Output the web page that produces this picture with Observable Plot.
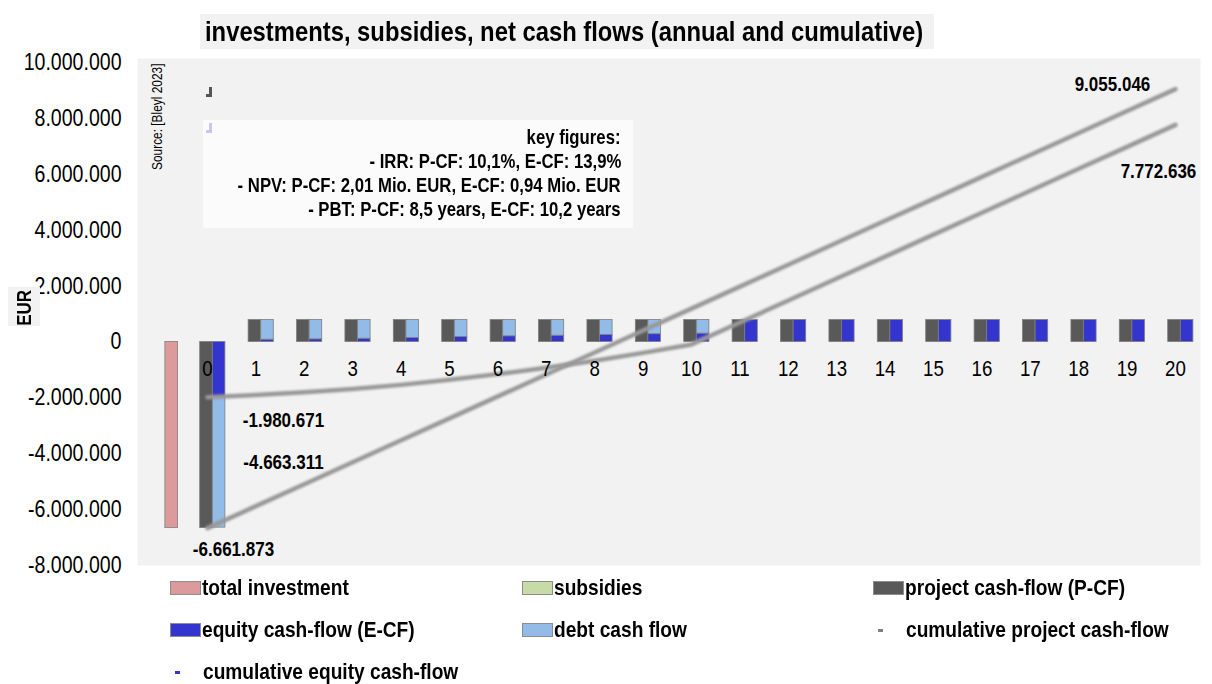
<!DOCTYPE html>
<html><head><meta charset="utf-8">
<script src="https://cdn.jsdelivr.net/npm/d3@7"></script>
<script src="https://cdn.jsdelivr.net/npm/@observablehq/plot@0.6"></script>
<style>
body{margin:0;background:#fff;}
#wrap{position:relative;width:1212px;height:684px;overflow:hidden;font-family:"Liberation Sans",Arial,sans-serif;color:#000;}
#title{position:relative;height:50px;}
#tbox{position:absolute;left:200px;top:14px;height:35px;background:#f2f2f2;white-space:nowrap;}
#tbox span{position:absolute;left:5px;top:0;font-weight:bold;font-size:28px;line-height:35px;}
.sc{display:inline-block;transform:scaleX(0.85);transform-origin:0 50%;white-space:nowrap;}
.lsc{display:inline-block;transform:scaleX(0.87);transform-origin:0 50%;white-space:nowrap;}
#legend{position:absolute;left:170px;top:567px;display:grid;grid-template-columns:352px 351px 330px;grid-auto-rows:42px;align-items:center;font-weight:bold;font-size:22px;}
.item{display:flex;align-items:center;white-space:nowrap;}
.sw{flex:0 0 31px;width:31px;height:14px;margin-right:1px;box-sizing:border-box;border:1px solid #8c8c8c;}
.mk{flex:0 0 5px;width:5px;height:3px;margin-left:5px;margin-right:23px;}
#keybox{position:absolute;left:203px;top:120px;width:430px;height:108px;background:#fbfbfb;font-weight:bold;font-size:19.7px;line-height:24px;white-space:nowrap;}
#keybox div{position:absolute;right:12px;height:24px;}
#keybox span{display:inline-block;transform:scaleX(0.85);transform-origin:100% 50%;}
#source{position:absolute;left:150px;top:170px;transform-origin:0 0;transform:rotate(-90deg) scaleX(0.85);font-size:14px;line-height:14px;white-space:nowrap;}
#eurbox{position:absolute;left:8px;top:287px;width:32px;height:39px;background:#f2f2f2;}
#eur{position:absolute;left:8px;top:330px;width:45px;height:32px;transform-origin:0 0;transform:rotate(-90deg);font-weight:bold;font-size:20px;line-height:32px;text-align:center;}
#eur span{display:inline-block;transform:scaleX(0.85);}
.glyph{position:absolute;width:6px;height:10px;box-sizing:border-box;border-right:3px solid;border-bottom:3px solid;}
</style></head>
<body><div id="wrap">
<div id="title"><div id="tbox"><span class="sc">investments, subsidies, net cash flows (annual and cumulative)</span></div></div>
<div id="chart"></div>
<div id="legend"></div>
<div class="glyph" style="left:206px;top:87px;border-color:#555;"></div>
<div id="keybox"></div>
<div class="glyph" style="left:206px;top:123px;border-color:#c8c8ee;"></div>
<div id="source">Source: [Bleyl 2023]</div>
<div id="eurbox"></div>
<div id="eur"><span>EUR</span></div>
</div>
<script>
// ---- data ----
const years = [0,1,2,3,4,5,6,7,8,9,10,11,12,13,14,15,16,17,18,19,20];
const totalInvestment = [-6661873,0,0,0,0,0,0,0,0,0,0,0,0,0,0,0,0,0,0,0,0];
const subsidies = [0,0,0,0,0,0,0,0,0,0,0,0,0,0,0,0,0,0,0,0,0];
const projectCF = [-6661873,785846,785846,785846,785846,785846,785846,785846,785846,785846,785846,785846,785846,785846,785846,785846,785846,785846,785846,785846,785845];
const equityCF = [-1980671,85000,97000,120000,145000,180000,205000,228000,253000,280000,302000,785831,785831,785831,785831,785831,785831,785831,785830,785830,785830];
const debtCF = [-4663311,700846,688846,665846,640846,605846,580846,557846,532846,505846,483846,0,0,0,0,0,0,0,0,0,0];
const yTicks = [-8000000,-6000000,-4000000,-2000000,0,2000000,4000000,6000000,8000000,10000000];
const keyFigures = ["key figures:","- IRR: P-CF: 10,1%, E-CF: 13,9%","- NPV: P-CF: 2,01 Mio. EUR, E-CF: 0,94 Mio. EUR","- PBT: P-CF: 8,5 years, E-CF: 10,2 years"];
const legendItems = [
  {label:"total investment", color:"#dc9a9c", kind:"bar"},
  {label:"subsidies", color:"#c7dba6", kind:"bar"},
  {label:"project cash-flow (P-CF)", color:"#595959", kind:"bar"},
  {label:"equity cash-flow (E-CF)", color:"#3434cf", kind:"bar"},
  {label:"debt cash flow", color:"#92bbe8", kind:"bar"},
  {label:"cumulative project cash-flow", color:"#808080", kind:"line"},
  {label:"cumulative equity cash-flow", color:"#3434cf", kind:"line"}
];
const colors = {total:"#dc9a9c", subsidies:"#c7dba6", project:"#595959", equity:"#3434cf", debt:"#92bbe8", line:"#999999"};
const SX = 0.85; // horizontal condensing of the narrow typeface

// ---- derived tables ----
const slot = {total:[-0.87,-0.61], subsidies:[-0.61,-0.35], project:[-0.15,0.11], stack:[0.11,0.37]};
const bars = [];
years.forEach((yr,i)=>{
  if (totalInvestment[i]!==0) bars.push({x1:yr+slot.total[0],x2:yr+slot.total[1],y1:0,y2:totalInvestment[i],fill:colors.total});
  if (subsidies[i]!==0) bars.push({x1:yr+slot.subsidies[0],x2:yr+slot.subsidies[1],y1:0,y2:subsidies[i],fill:colors.subsidies});
  bars.push({x1:yr+slot.project[0],x2:yr+slot.project[1],y1:0,y2:projectCF[i],fill:colors.project});
  bars.push({x1:yr+slot.stack[0],x2:yr+slot.stack[1],y1:0,y2:equityCF[i],fill:colors.equity});
  if (debtCF[i]!==0) bars.push({x1:yr+slot.stack[0],x2:yr+slot.stack[1],y1:equityCF[i],y2:equityCF[i]+debtCF[i],fill:colors.debt});
});
const cumP = d3.cumsum(projectCF), cumE = d3.cumsum(equityCF);
const cumPData = years.map((yr,i)=>({year:yr,value:cumP[i]}));
const cumEData = years.map((yr,i)=>({year:yr,value:cumE[i]}));
const last = years.length-1;

const fmt = d3.formatLocale({decimal:",",thousands:".",grouping:[3],currency:["","€"],minus:"-"}).format(",d");

const labels = [
  {x:years[0], y:cumE[0], t:fmt(cumE[0]), dx:76, dy:23},
  {x:years[0], y:equityCF[0]+debtCF[0]/2, t:fmt(debtCF[0]), dx:76, dy:0},
  {x:years[0], y:cumP[0], t:fmt(cumP[0]), dx:26, dy:21},
  {x:years[last], y:cumP[last], t:fmt(cumP[last]), dx:-63, dy:-4},
  {x:years[last], y:cumE[last], t:fmt(cumE[last]), dx:-17, dy:47}
];

const chart = Plot.plot({
  width:1212, height:525,
  marginLeft:137, marginRight:12, marginTop:8, marginBottom:10,
  x:{domain:[-1.446,20.517], axis:null},
  y:{domain:[-8000000,10150000], axis:null},
  style:{fontFamily:'"Liberation Sans",Arial,sans-serif', background:"transparent", color:"#000", overflow:"visible"},
  marks:[
    Plot.frame({fill:"#f2f2f2", stroke:null}),
    Plot.axisY(yTicks,{tickSize:0, tickPadding:16, tickFormat:fmt, fontSize:23, label:null}),
    Plot.rect(bars,{x1:"x1",x2:"x2",y1:"y1",y2:"y2",fill:"fill",stroke:"#7d7d7d",strokeWidth:0.8}),
    Plot.line(cumPData,{x:"year",y:"value",stroke:colors.line,strokeWidth:4.5}),
    Plot.line(cumEData,{x:"year",y:"value",stroke:colors.line,strokeWidth:4.5}),
    Plot.text(years,{x:d=>d, y:()=>0, text:d=>String(d), dy:27, fontSize:22}),
    Plot.text(labels,{x:"x",y:"y",text:"t",fontSize:20,fontWeight:"bold"})
  ]
});
document.getElementById("chart").appendChild(chart);
const svg = d3.select(chart);
const defs = svg.insert("defs",":first-child");
defs.append("filter").attr("id","soft").attr("x","-5%").attr("y","-5%").attr("width","110%").attr("height","110%")
  .append("feGaussianBlur").attr("stdDeviation",0.9);
svg.selectAll("g[aria-label=line]").attr("filter","url(#soft)");
svg.selectAll("g[aria-label=text]").filter((d,i)=>i===1).selectAll("text").each(function(_,i){
  const t=this.getAttribute("transform")||"";
  this.setAttribute("transform", t + ` translate(${labels[i].dx},${labels[i].dy})`);
});
svg.selectAll("text").each(function(){
  const L=this.getComputedTextLength();
  if(L>0){this.setAttribute("textLength",L*SX);this.setAttribute("lengthAdjust","spacingAndGlyphs");}
});

const tspan=document.querySelector("#tbox span");
document.getElementById("tbox").style.width=(tspan.getBoundingClientRect().width+16)+"px";
const kb = document.getElementById("keybox");
keyFigures.forEach((s,i)=>{const d=document.createElement("div"); d.style.top=(5+24*i)+"px"; const sp=document.createElement("span"); sp.textContent=s; d.appendChild(sp); kb.appendChild(d);});
const lg = document.getElementById("legend");
legendItems.forEach(it=>{
  const d=document.createElement("div"); d.className="item";
  const s=document.createElement("span");
  if(it.kind==="bar"){s.className="sw"; s.style.backgroundColor=it.color;}
  else {s.className="mk"; s.style.background=it.color;}
  d.appendChild(s);
  const t=document.createElement("span"); t.className="lsc"; t.textContent=it.label; d.appendChild(t);
  lg.appendChild(d);
});
</script>
</body></html>
